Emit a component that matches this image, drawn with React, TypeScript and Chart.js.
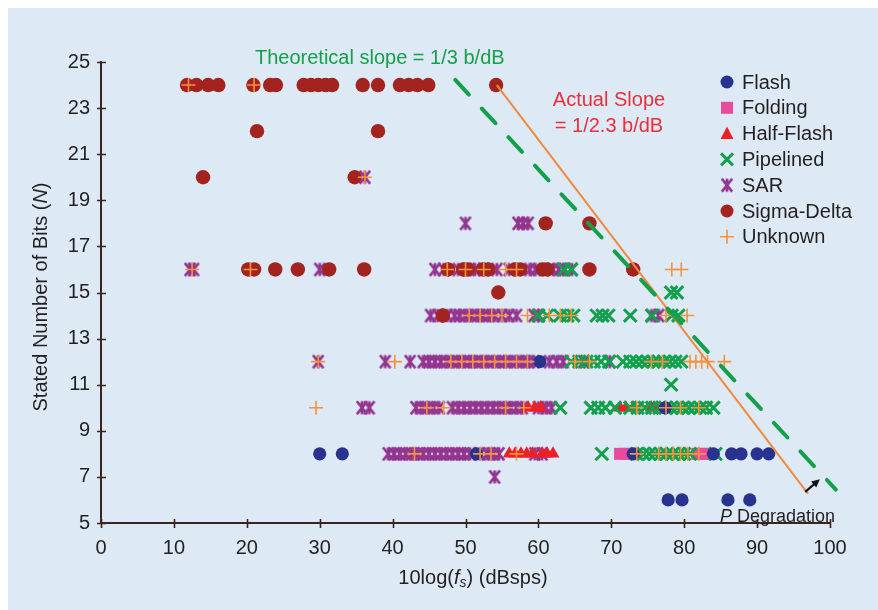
import React, { useEffect, useRef } from 'react';
import { Chart, registerables } from 'chart.js';

Chart.register(...registerables);

type P = [number, number];

// ---------- data (x = 10log(fs) dBsps, y = stated bits) ----------
const xTicks = { min: 0, max: 100, step: 10 };
const yTicks = { min: 5, max: 25, step: 2 };

const flash: P[] = [
  [30, 8], [33.1, 8], [51.5, 8], [73, 8], [84, 8], [86.5, 8], [87.8, 8], [90, 8], [91.6, 8],
  [60.2, 12], [77.4, 10],
  [77.8, 6], [79.7, 6], [86, 6], [89, 6],
];

const folding: P[] = [
  [71.2, 8], [71.9, 8], [72.6, 8], [81.8, 8], [82.6, 8], [83.4, 8],
];

const halfFlash: P[] = [
  [58.6, 10], [59.5, 10], [60.3, 10], [71.2, 10], [72, 10], [73, 10], [75.5, 10], [76.2, 10],
  [56, 8], [56.8, 8], [57.6, 8], [58.4, 8], [59.2, 8], [60.5, 8], [61.2, 8], [62, 8],
];

const pipelined: P[] = [
  [63.5, 16], [64.5, 16],
  [78.2, 15], [79, 15],
  [60, 14], [61.2, 14], [63, 14], [64, 14], [64.8, 14], [68, 14], [68.8, 14], [69.6, 14], [72.6, 14], [75.6, 14], [78.3, 14], [79.2, 14],
  [64.5, 12], [65.6, 12], [66.6, 12], [67.6, 12], [68.6, 12], [69.7, 12], [71.6, 12], [72.6, 12], [73.4, 12], [74.2, 12],
  [75, 12], [75.8, 12], [76.5, 12], [77.2, 12], [78, 12], [78.8, 12], [79.6, 12],
  [78.2, 11],
  [63, 10], [67.2, 10], [68.2, 10], [69.2, 10], [70.5, 10], [72.6, 10], [73.6, 10], [74.6, 10], [75.6, 10], [76.6, 10],
  [77.4, 10], [78.2, 10], [79, 10], [79.8, 10], [80.6, 10], [81.4, 10], [82.2, 10], [83, 10], [84, 10],
  [68.7, 8], [73.5, 8], [74.4, 8], [75.2, 8], [76, 8], [76.8, 8], [77.6, 8], [78.4, 8], [79.2, 8], [80, 8], [80.8, 8], [84.3, 8],
];

const sar: P[] = [
  [36.2, 20],
  [50, 18], [57.2, 18], [57.9, 18], [58.6, 18],
  [12.2, 16], [12.7, 16], [30, 16], [45.8, 16], [47, 16], [49, 16], [50.5, 16], [51.3, 16], [52.5, 16], [54.3, 16],
  [56, 16], [58.8, 16], [59.6, 16], [62, 16], [62.8, 16], [63.6, 16], [64.6, 16],
  [45.2, 14], [46.2, 14], [47.5, 14], [48.5, 14], [49.2, 14], [50, 14], [50.8, 14], [51.6, 14], [52.4, 14], [53.2, 14],
  [54, 14], [55, 14], [56, 14], [57, 14], [59.4, 14], [60, 14], [75.5, 14], [76.5, 14],
  [29.8, 12], [39, 12], [42.4, 12], [44.2, 12], [45, 12], [45.8, 12], [46.6, 12], [47.4, 12], [48.2, 12], [49, 12],
  [49.8, 12], [50.6, 12], [51.4, 12], [52.2, 12], [53, 12], [53.8, 12], [54.6, 12], [55.4, 12], [56.2, 12], [57, 12],
  [57.8, 12], [58.6, 12], [59.4, 12], [61.5, 12], [62.5, 12], [63.4, 12], [66.2, 12], [69.8, 12],
  [35.8, 10], [36.8, 10], [43.2, 10], [44, 10], [44.8, 10], [45.6, 10], [46.4, 10], [48.2, 10], [49, 10], [49.8, 10],
  [50.6, 10], [51.4, 10], [52.2, 10], [53, 10], [53.8, 10], [54.6, 10], [55.4, 10], [56.2, 10], [57, 10], [57.8, 10],
  [60, 10], [61, 10], [61.8, 10],
  [39.4, 8], [40.2, 8], [41, 8], [41.8, 8], [42.6, 8], [43.4, 8], [44.2, 8], [45, 8], [45.8, 8], [46.6, 8], [47.4, 8],
  [48.2, 8], [49, 8], [49.8, 8], [50.6, 8], [52, 8], [53, 8], [53.8, 8], [54.6, 8], [59.5, 8], [60.5, 8],
  [54, 7],
];

const sigmaDelta: P[] = [
  [11.8, 24], [13.1, 24], [14.7, 24], [16.1, 24], [20.9, 24], [23.2, 24], [24, 24], [27.8, 24], [28.8, 24], [29.8, 24],
  [30.8, 24], [31.7, 24], [35.9, 24], [38, 24], [41, 24], [42.2, 24], [43.4, 24], [44.9, 24], [54.2, 24],
  [21.4, 22], [38, 22],
  [14, 20], [34.8, 20],
  [61, 18], [67, 18],
  [20.2, 16], [21, 16], [23.9, 16], [27, 16], [31.3, 16], [36.1, 16], [47.6, 16], [49.7, 16], [50.3, 16], [52.4, 16],
  [53.1, 16], [56.8, 16], [57.5, 16], [60.6, 16], [61.2, 16], [67, 16], [73, 16],
  [54.5, 15],
  [46.9, 14],
];

const unknown: P[] = [
  [12, 24], [21, 24],
  [36.2, 20],
  [12.5, 16], [20.5, 16], [47.5, 16], [50, 16], [52.5, 16], [55.5, 16], [57, 16], [78.3, 16], [79.6, 16],
  [50.5, 14], [52, 14], [53.6, 14], [55, 14], [58.5, 14], [61.5, 14], [63, 14], [64.5, 14], [77.5, 14], [80.4, 14],
  [29.8, 12], [40.3, 12], [48, 12], [49.5, 12], [51, 12], [52.5, 12], [54, 12], [55.5, 12], [57, 12], [58.5, 12],
  [65, 12], [67, 12], [75.5, 12], [77, 12], [80.8, 12], [81.6, 12], [82.4, 12], [83.2, 12], [85.5, 12],
  [29.5, 10], [44.7, 10], [47, 10], [55.5, 10], [58, 10], [73.5, 10], [77.5, 10], [79.5, 10], [82, 10],
  [43, 8], [52, 8], [53.5, 8], [57, 8], [73.5, 8], [76.5, 8], [77.5, 8], [78.5, 8], [79.5, 8], [80.5, 8], [82, 8],
];

const theoreticalLine: P[] = [[48.6, 24.22], [100.8, 6.45]];
const actualLine: P[] = [[54.3, 24.0], [97.0, 6.26]];
const degradationArrow: P[] = [[96.6, 6.35], [98.6, 6.9]];

const seriesNames = ['Flash', 'Folding', 'Half-Flash', 'Pipelined', 'SAR', 'Sigma-Delta', 'Unknown'];

// ---------- styling ----------
const FONT = "'Liberation Sans', Arial, Helvetica, sans-serif";
const BG = '#dde9f5';
const AXIS = '#3a2420';
const TEXT = '#231f20';
const C = {
  flash: '#27338f',
  folding: '#e94b9c',
  half: '#ea2228',
  pipe: '#13a04d',
  sar: '#93358f',
  sigma: '#a3231f',
  unknown: '#f5923a',
  theo: '#14a04a',
  actual: '#f08a3e',
  actualText: '#e8303a',
};

const toPts = (a: P[]) => a.map(([x, y]) => ({ x, y }));

function makeSar(color: string, r: number, lw: number) {
  const s = Math.ceil(2 * r + lw + 2);
  const cv = document.createElement('canvas');
  cv.width = s;
  cv.height = s;
  const g = cv.getContext('2d')!;
  const c = s / 2;
  g.strokeStyle = color;
  g.lineWidth = lw;
  g.lineCap = 'butt';
  g.beginPath();
  g.moveTo(c - r * 0.8, c - r);
  g.lineTo(c + r * 0.8, c + r);
  g.moveTo(c - r * 0.8, c + r);
  g.lineTo(c + r * 0.8, c - r);
  g.moveTo(c, c - r);
  g.lineTo(c, c + r);
  g.stroke();
  return cv;
}

type Part = { t: string; it?: boolean; size: number; dy?: number };
function setFont(ctx: CanvasRenderingContext2D, p: Part) {
  ctx.font = `${p.it ? 'italic ' : ''}${p.size}px ${FONT}`;
}
function richWidth(ctx: CanvasRenderingContext2D, parts: Part[]) {
  let w = 0;
  for (const p of parts) {
    setFont(ctx, p);
    w += ctx.measureText(p.t).width;
  }
  return w;
}
function drawRich(ctx: CanvasRenderingContext2D, parts: Part[], x: number, y: number, color: string) {
  ctx.fillStyle = color;
  ctx.textAlign = 'left';
  ctx.textBaseline = 'middle';
  let cx = x;
  for (const p of parts) {
    setFont(ctx, p);
    ctx.fillText(p.t, cx, y + (p.dy || 0));
    cx += ctx.measureText(p.t).width;
  }
}

function drawMarker(ctx: CanvasRenderingContext2D, kind: string, x: number, y: number, color: string, img?: HTMLCanvasElement) {
  ctx.save();
  ctx.fillStyle = color;
  ctx.strokeStyle = color;
  ctx.beginPath();
  if (kind === 'circle') {
    ctx.arc(x, y, 6.5, 0, Math.PI * 2);
    ctx.fill();
  } else if (kind === 'rect') {
    ctx.fillRect(x - 6, y - 6, 12, 12);
  } else if (kind === 'triangle') {
    ctx.moveTo(x, y - 7);
    ctx.lineTo(x + 6.5, y + 5.5);
    ctx.lineTo(x - 6.5, y + 5.5);
    ctx.closePath();
    ctx.fill();
  } else if (kind === 'crossRot') {
    ctx.lineWidth = 3;
    ctx.moveTo(x - 6, y - 6);
    ctx.lineTo(x + 6, y + 6);
    ctx.moveTo(x - 6, y + 6);
    ctx.lineTo(x + 6, y - 6);
    ctx.stroke();
  } else if (kind === 'cross') {
    ctx.lineWidth = 1.6;
    ctx.moveTo(x - 7, y);
    ctx.lineTo(x + 7, y);
    ctx.moveTo(x, y - 7);
    ctx.lineTo(x, y + 7);
    ctx.stroke();
  } else if (kind === 'img' && img) {
    ctx.drawImage(img, x - img.width / 2, y - img.height / 2);
  }
  ctx.restore();
}

export default function App() {
  const ref = useRef<HTMLCanvasElement>(null);

  useEffect(() => {
    document.documentElement.style.overflow = 'hidden';
    const sarImg = makeSar(C.sar, 6.5, 2.8);

    const legendKinds: { kind: string; color: string }[] = [
      { kind: 'circle', color: C.flash },
      { kind: 'rect', color: C.folding },
      { kind: 'triangle', color: C.half },
      { kind: 'crossRot', color: C.pipe },
      { kind: 'img', color: C.sar },
      { kind: 'circle', color: C.sigma },
      { kind: 'cross', color: C.unknown },
    ];

    const overlay = {
      id: 'overlay',
      afterDraw(chart: any) {
        const ctx: CanvasRenderingContext2D = chart.ctx;
        const xs = chart.scales.x;
        const ys = chart.scales.y;
        const area = chart.chartArea;
        ctx.save();

        // tick marks crossing the axes
        ctx.strokeStyle = AXIS;
        ctx.lineWidth = 1.6;
        ctx.beginPath();
        for (let v = xTicks.min; v <= xTicks.max; v += xTicks.step) {
          const px = Math.round(xs.getPixelForValue(v)) + 0.5;
          ctx.moveTo(px, area.bottom - 4);
          ctx.lineTo(px, area.bottom + 5);
        }
        for (let v = yTicks.min; v <= yTicks.max; v += yTicks.step) {
          const py = Math.round(ys.getPixelForValue(v)) + 0.5;
          ctx.moveTo(area.left - 4, py);
          ctx.lineTo(area.left + 5, py);
        }
        ctx.stroke();

        // axis titles
        const xt: Part[] = [
          { t: '10log(', size: 20 },
          { t: 'f', it: true, size: 20 },
          { t: 's', it: true, size: 14, dy: 5 },
          { t: ') (dBsps)', size: 20 },
        ];
        const xw = richWidth(ctx, xt);
        drawRich(ctx, xt, 465 - xw / 2, 570, TEXT);

        const yt: Part[] = [
          { t: 'Stated Number of Bits (', size: 20 },
          { t: 'N', it: true, size: 20 },
          { t: ')', size: 20 },
        ];
        const yw = richWidth(ctx, yt);
        ctx.save();
        ctx.translate(33, 289);
        ctx.rotate(-Math.PI / 2);
        drawRich(ctx, yt, -yw / 2, 0, TEXT);
        ctx.restore();

        // annotations
        drawRich(ctx, [{ t: 'Theoretical slope = 1/3 b/dB', size: 20 }], 247, 50, C.theo);
        ctx.textAlign = 'center';
        ctx.textBaseline = 'middle';
        ctx.fillStyle = C.actualText;
        ctx.font = `20px ${FONT}`;
        ctx.fillText('Actual Slope', 601, 92);
        ctx.fillText('= 1/2.3 b/dB', 601, 118);

        const pd: Part[] = [
          { t: 'P', it: true, size: 18 },
          { t: ' Degradation', size: 18 },
        ];
        drawRich(ctx, pd, 712, 509, TEXT);

        // arrow
        const ax0 = xs.getPixelForValue(degradationArrow[0][0]);
        const ay0 = ys.getPixelForValue(degradationArrow[0][1]);
        const ax1 = xs.getPixelForValue(degradationArrow[1][0]);
        const ay1 = ys.getPixelForValue(degradationArrow[1][1]);
        const ang = Math.atan2(ay1 - ay0, ax1 - ax0);
        ctx.strokeStyle = '#111';
        ctx.fillStyle = '#111';
        ctx.lineWidth = 2.2;
        ctx.beginPath();
        ctx.moveTo(ax0, ay0);
        ctx.lineTo(ax1 - 5 * Math.cos(ang), ay1 - 5 * Math.sin(ang));
        ctx.stroke();
        ctx.beginPath();
        ctx.moveTo(ax1, ay1);
        ctx.lineTo(ax1 - 9 * Math.cos(ang - 0.45), ay1 - 9 * Math.sin(ang - 0.45));
        ctx.lineTo(ax1 - 9 * Math.cos(ang + 0.45), ay1 - 9 * Math.sin(ang + 0.45));
        ctx.closePath();
        ctx.fill();

        // legend
        const lx = 719;
        const tx = 734;
        const ly0 = 74;
        const dy = 25.8;
        seriesNames.forEach((name, i) => {
          const y = ly0 + i * dy;
          const k = legendKinds[i];
          drawMarker(ctx, k.kind, lx, y, k.color, sarImg);
          ctx.fillStyle = TEXT;
          ctx.font = `20px ${FONT}`;
          ctx.textAlign = 'left';
          ctx.textBaseline = 'middle';
          ctx.fillText(name, tx, y + 1);
        });

        ctx.restore();
      },
    };

    const tickFont = { family: FONT, size: 20 };

    const chart = new Chart(ref.current!, {
      type: 'scatter',
      data: {
        datasets: [
          {
            label: 'Theoretical',
            data: toPts(theoreticalLine),
            showLine: true,
            borderColor: C.theo,
            borderWidth: 4,
            borderDash: [20, 19],
            borderCapStyle: 'round',
            pointRadius: 0,
            clip: false,
            order: 0,
          } as any,
          {
            label: 'Actual',
            data: toPts(actualLine),
            showLine: true,
            borderColor: C.actual,
            borderWidth: 2,
            pointRadius: 0,
            order: 0,
          } as any,
          {
            label: seriesNames[6],
            data: toPts(unknown),
            pointStyle: 'cross',
            pointRadius: 7,
            pointBorderWidth: 1.6,
            borderColor: C.unknown,
            backgroundColor: C.unknown,
            order: 1,
          },
          {
            label: seriesNames[5],
            data: toPts(sigmaDelta),
            pointStyle: 'circle',
            pointRadius: 7.2,
            pointBorderWidth: 0,
            borderColor: C.sigma,
            backgroundColor: C.sigma,
            order: 2,
          },
          {
            label: seriesNames[0],
            data: toPts(flash),
            pointStyle: 'circle',
            pointRadius: 6.6,
            pointBorderWidth: 0,
            borderColor: C.flash,
            backgroundColor: C.flash,
            order: 3,
          },
          {
            label: seriesNames[3],
            data: toPts(pipelined),
            pointStyle: 'crossRot',
            pointRadius: 9,
            pointBorderWidth: 3,
            borderColor: C.pipe,
            backgroundColor: C.pipe,
            order: 4,
          },
          {
            label: seriesNames[2],
            data: toPts(halfFlash),
            pointStyle: 'triangle',
            pointRadius: 7.5,
            pointBorderWidth: 0,
            borderColor: C.half,
            backgroundColor: C.half,
            order: 5,
          },
          {
            label: seriesNames[1],
            data: toPts(folding),
            pointStyle: 'rect',
            pointRadius: 8.5,
            pointBorderWidth: 0,
            borderColor: C.folding,
            backgroundColor: C.folding,
            order: 6,
          },
          {
            label: seriesNames[4],
            data: toPts(sar),
            pointStyle: sarImg as any,
            pointRadius: 7,
            borderColor: C.sar,
            backgroundColor: C.sar,
            order: 7,
          },
        ],
      },
      options: {
        animation: false,
        responsive: false,
        events: [],
        layout: { padding: { left: 0, right: 48, top: 54, bottom: 0 } },
        plugins: {
          legend: { display: false },
          tooltip: { enabled: false },
          title: { display: false },
        },
        scales: {
          x: {
            type: 'linear',
            min: xTicks.min,
            max: xTicks.max,
            afterFit: (s: any) => {
              s.height = 87;
            },
            ticks: { stepSize: xTicks.step, padding: 13, color: TEXT, font: tickFont },
            grid: { display: false, drawTicks: false },
            border: { display: true, color: AXIS, width: 2 },
          },
          y: {
            type: 'linear',
            min: yTicks.min,
            max: yTicks.max,
            afterFit: (s: any) => {
              s.width = 93;
            },
            ticks: { stepSize: yTicks.step, padding: 11, color: TEXT, font: tickFont },
            grid: { display: false, drawTicks: false },
            border: { display: true, color: AXIS, width: 2 },
          },
        },
      },
      plugins: [overlay],
    });

    return () => chart.destroy();
  }, []);

  return (
    <div style={{ position: 'fixed', left: 8, top: 8, width: 870, height: 602, background: BG }}>
      <canvas ref={ref} width={870} height={602} style={{ display: 'block' }} />
    </div>
  );
}
